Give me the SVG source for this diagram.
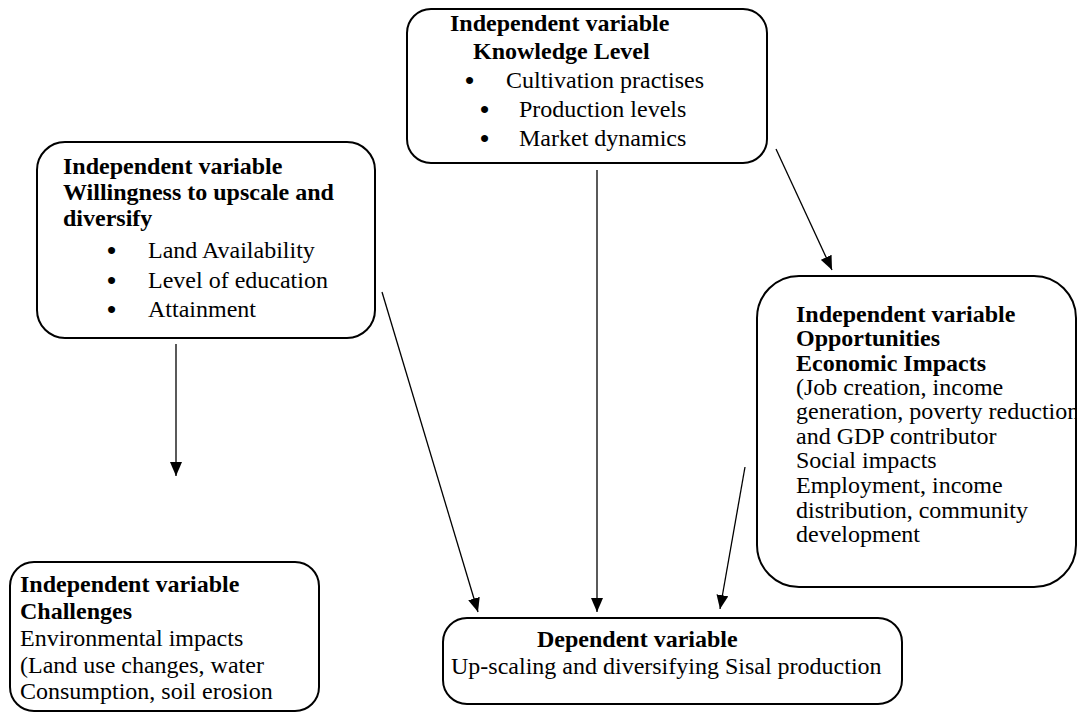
<svg xmlns="http://www.w3.org/2000/svg" width="1077" height="718" viewBox="0 0 1077 718">
<style>
.box{fill:#fff;stroke:#000;stroke-width:2}
text{font-family:"Liberation Serif","Times New Roman",serif;font-size:24px;fill:#000}
.b{font-weight:bold}
.bl{font-size:26px;font-weight:bold}
.c line{stroke:#000;stroke-width:1.3}
</style>
<defs>
<marker id="ah" markerWidth="14" markerHeight="12" viewBox="0 0 14 12" refX="14" refY="6" orient="auto" markerUnits="userSpaceOnUse">
<path d="M0,0 L14,6 L0,12 Z" fill="#000"/>
</marker>
</defs>
<rect width="1077" height="718" fill="#fff"/>
<g class="c" id="connectors">
<line x1="176" y1="344" x2="176" y2="476" marker-end="url(#ah)"/>
<line x1="382" y1="292" x2="478" y2="612" marker-end="url(#ah)"/>
<line x1="597" y1="170" x2="597" y2="612" marker-end="url(#ah)"/>
<line x1="745" y1="467" x2="720" y2="609" marker-end="url(#ah)"/>
<line x1="776" y1="149" x2="832" y2="270" marker-end="url(#ah)"/>
</g>
<g id="knowledge">
<rect class="box" x="407" y="9" width="360" height="154" rx="24"/>
<text class="b" x="450" y="31">Independent variable</text>
<text class="b" x="473" y="59">Knowledge Level</text>
<text class="bl" x="465" y="89">•</text><text x="506" y="88">Cultivation practises</text>
<text class="bl" x="480" y="118">•</text><text x="519" y="117">Production levels</text>
<text class="bl" x="480" y="147">•</text><text x="519" y="146">Market dynamics</text>
</g>
<g id="willingness">
<rect class="box" x="37" y="142" width="338" height="196" rx="28"/>
<text class="b" x="63" y="174">Independent variable</text>
<text class="b" x="63" y="200">Willingness to upscale and</text>
<text class="b" x="63" y="226">diversify</text>
<text class="bl" x="107" y="259">•</text><text x="148" y="258">Land Availability</text>
<text class="bl" x="107" y="289">•</text><text x="148" y="288">Level of education</text>
<text class="bl" x="107" y="318">•</text><text x="148" y="317">Attainment</text>
</g>
<g id="opportunities">
<rect class="box" x="757" y="276" width="319" height="311" rx="42"/>
<text class="b" x="796" y="322">Independent variable</text>
<text class="b" x="796" y="346">Opportunities</text>
<text class="b" x="796" y="371">Economic Impacts</text>
<text x="796" y="395">(Job creation, income</text>
<text x="796" y="419">generation, poverty reduction</text>
<text x="796" y="444">and GDP contributor</text>
<text x="796" y="468">Social impacts</text>
<text x="796" y="493">Employment, income</text>
<text x="796" y="518">distribution, community</text>
<text x="796" y="542">development</text>
</g>
<g id="challenges">
<rect class="box" x="10" y="562" width="309" height="149" rx="24"/>
<text class="b" x="20" y="592">Independent variable</text>
<text class="b" x="20" y="619">Challenges</text>
<text x="20" y="646">Environmental impacts</text>
<text x="20" y="673">(Land use changes, water</text>
<text x="20" y="699">Consumption, soil erosion</text>
</g>
<g id="dependent">
<rect class="box" x="443" y="618" width="459" height="86" rx="24"/>
<text class="b" x="537" y="647">Dependent variable</text>
<text x="451" y="674">Up-scaling and diversifying Sisal production</text>
</g>
</svg>
